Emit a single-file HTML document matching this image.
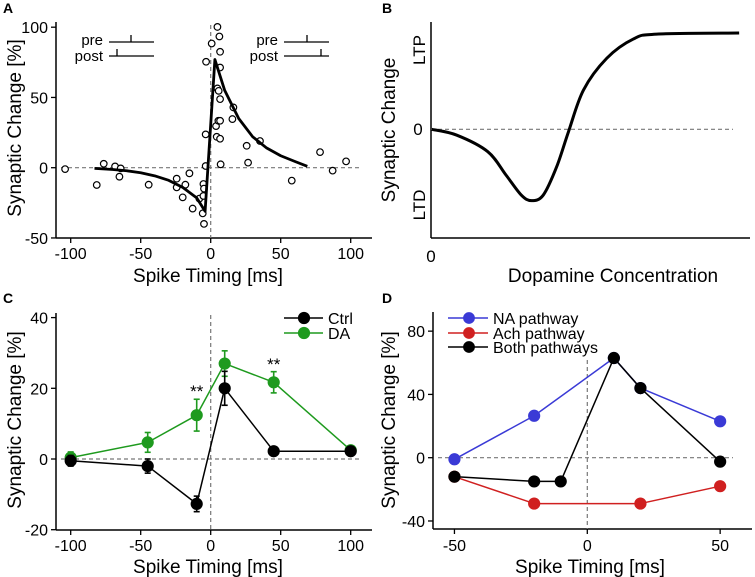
<!DOCTYPE html>
<html><head><meta charset="utf-8">
<style>
html,body{margin:0;padding:0;background:#fff;}
svg{display:block;font-family:"Liberation Sans",Arial,sans-serif;}
</style></head>
<body>
<svg id="fig" width="755" height="577" viewBox="0 0 755 577" xmlns="http://www.w3.org/2000/svg"></svg>
<script>
// ---------- Panel A data ----------
const aPtsX=[-104,-81.4,-76.4,-68.3,-64.3,-65.2,-44.3,-24.3,-24.3,-15.2,-18.1,-20,-12.9,-8.1,-5.2,-4.8,-5.2,-5.7,-4.8,-3.6,-3.3,-3.6,0.7,4.8,6.2,6.7,6.7,4.8,5.7,6.7,3.8,5.5,6.7,4.3,6.7,7.1,16.2,15.5,25.7,26.7,35.2,57.9,78.1,87.1,96.7];
const aPtsY=[-1,-12.3,2.8,0.9,-0.5,-6.4,-12.1,-7.8,-14,-4,-12.1,-21.1,-29.1,-22,-11.6,-14.9,-20.1,-32.5,-40,1.2,75.4,23.7,88.4,100.2,93.4,82.5,71.3,56.4,54.7,48.8,29.6,33.4,33.4,22,20.6,2.4,42.9,34.6,15.6,3.6,19,-9.2,11.1,-2.1,4.5];
const aFitX=[-83,-70,-60,-50,-40,-30,-20,-10,-4,3,10,20,30,40,50,60,69];
const aFitY=[-0.5,-1.3,-2.2,-3.6,-5.8,-9,-14,-21.5,-31,77,55,35,22,14,8.5,4.5,1];
const aXTicks=[-100,-50,0,50,100];
const aYTicks=[100,50,0,-50];
// ---------- Panel B data ----------
const bConc=[0.2,8,17.8,23.5,28.3,31.5,35.2,39.4,43.1,47.8,55.1,63.4,70.8,96.6];
const bVal=[0,-6,-23.3,-47.6,-68.5,-74.3,-68.5,-39,-2.5,40.9,74,94,99.2,100.3];
// ---------- Panel C data ----------
const cX=[-100,-45,-10,10,45,100];
const cCtrl=[-0.5,-2,-12.7,20,2.2,2.2];
const cCtrlErr=[1.5,2,2.2,4.8,1,1];
const cDA=[0.4,4.7,12.4,27,21.7,2.5];
const cDAErr=[1.6,2.8,4.5,3.6,3,1];
const cXTicks=[-100,-50,0,50,100];
const cYTicks=[40,20,0,-20];
// ---------- Panel D data ----------
const dNAx=[-50,-20,10,20,50];
const dNA=[-1,26.5,63,44,23];
const dAchx=[-50,-20,20,50];
const dAch=[-12,-29,-29,-18];
const dBothx=[-50,-20,-10,10,20,50];
const dBoth=[-12,-15,-15,63,44,-2.5];
const dXTicks=[-50,0,50];
const dYTicks=[80,40,0,-40];

const NS="http://www.w3.org/2000/svg";
const svg=document.getElementById('fig');
function mk(tag,attrs,parent,text){
  const e=document.createElementNS(NS,tag);
  for(const k in attrs)e.setAttribute(k,attrs[k]);
  if(text!==undefined)e.textContent=text;
  (parent||svg).appendChild(e);return e;
}
function grp(name){const g=mk('g',{});
  
  
  return g;}
function line(g,x1,y1,x2,y2,st,w,dash,name){const l=mk('line',{x1,y1,x2,y2,stroke:st,'stroke-width':w},g);
  if(dash)l.setAttribute('stroke-dasharray',dash);
  
  
  return l;}
function txt(g,x,y,s,size,anchor,name,extra){const t=mk('text',Object.assign({x,y,'font-size':size,'text-anchor':anchor||'middle',fill:'#000'},extra||{}),g,s);
  
  
  return t;}
function poly(g,pts,st,w,name){const p=mk('polyline',{points:pts.map(p=>p.join(',')).join(' '),fill:'none',stroke:st,'stroke-width':w,'stroke-linejoin':'round'},g);
  
  
  return p;}
function dot(g,x,y,r,fill,st,name){const c=mk('circle',{cx:x,cy:y,r,fill,stroke:st||fill,'stroke-width':1.2},g);
  
  
  return c;}

// ================= Panel A =================
(function(){
  const g=grp('panel-a');
  const xs=v=>210.7+v*1.4, ys=v=>167.7-v*1.405;
  txt(g,3,13,'A',14,'start','panel-label-a',{'font-weight':'bold'});
  line(g,56,22,56,238,'#000',1.5,null,'y-axis');
  line(g,56,238,372,238,'#000',1.5,null,'x-axis');
  aYTicks.forEach(v=>{line(g,51,ys(v),56,ys(v),'#000',1.3,null,'y-tick');txt(g,48,ys(v)+6,String(v),16,'end','y-tick-label');});
  aXTicks.forEach(v=>{line(g,xs(v),238,xs(v),243,'#000',1.3,null,'x-tick');txt(g,xs(v),259,String(v),16,'middle','x-tick-label');});
  line(g,61,ys(0),359,ys(0),'#777',1.2,'4,3','zero-line');
  line(g,xs(0),25,xs(0),238,'#777',1.2,'4,3','zero-time-line');
  txt(g,208,282,'Spike Timing [ms]',19,'middle','x-axis-title');
  txt(g,0,0,'Synaptic Change [%]',19,'middle','y-axis-title',{transform:'translate(21,128) rotate(-90)'});
  aPtsX.forEach((x,i)=>dot(g,xs(x),ys(aPtsY[i]),3.3,'#fff','#000','data-point'));
  poly(g,aFitX.map((x,i)=>[xs(x),ys(aFitY[i])]),'#000',2.8,'fit-curve');
  txt(g,103,45,'pre',15,'end','inset-pre-label-left');
  line(g,109,42,154,42,'#000',1.3,null,'pre-line-left');line(g,131,35,131,42,'#000',1.3,null,'pre-spike-left');
  txt(g,103,61,'post',15,'end','inset-post-label-left');
  line(g,109,56,154,56,'#000',1.3,null,'post-line-left');line(g,117,49,117,56,'#000',1.3,null,'post-spike-left');
  txt(g,278,45,'pre',15,'end','inset-pre-label-right');
  line(g,284,42,329,42,'#000',1.3,null,'pre-line-right');line(g,307,35,307,42,'#000',1.3,null,'pre-spike-right');
  txt(g,278,61,'post',15,'end','inset-post-label-right');
  line(g,284,56,329,56,'#000',1.3,null,'post-line-right');line(g,321,49,321,56,'#000',1.3,null,'post-spike-right');
})();

// ================= Panel B =================
(function(){
  const g=grp('panel-b');
  const xs=c=>431+c*3.19, ys=v=>129.3-v*0.96;
  txt(g,382,13,'B',14,'start','panel-label-b',{'font-weight':'bold'});
  line(g,431,22,431,238,'#000',1.5,null,'y-axis');
  line(g,431,238,750,238,'#000',1.5,null,'x-axis');
  line(g,431,ys(0),733,ys(0),'#777',1.2,'4,3','zero-line');
  txt(g,0,0,'LTP',17,'middle','ltp-label',{transform:'translate(425,50) rotate(-90)'});
  txt(g,418,135,'0',17,'middle','zero-label');
  txt(g,0,0,'LTD',17,'middle','ltd-label',{transform:'translate(425,205) rotate(-90)'});
  txt(g,0,0,'Synaptic Change',19,'middle','y-axis-title',{transform:'translate(395,130) rotate(-90)'});
  txt(g,431,262,'0',17,'middle','x-origin-label');
  txt(g,613,282,'Dopamine Concentration',19,'middle','x-axis-title');
  const P=bConc.map((c,i)=>[xs(c),ys(bVal[i])]);
  let d='M'+P[0][0]+','+P[0][1];
  for(let i=0;i<P.length-1;i++){
    const p0=P[Math.max(0,i-1)],p1=P[i],p2=P[i+1],p3=P[Math.min(P.length-1,i+2)];
    const c1=[p1[0]+(p2[0]-p0[0])/6,p1[1]+(p2[1]-p0[1])/6];
    const c2=[p2[0]-(p3[0]-p1[0])/6,p2[1]-(p3[1]-p1[1])/6];
    d+=` C${c1[0]},${c1[1]} ${c2[0]},${c2[1]} ${p2[0]},${p2[1]}`;
  }
  const p=mk('path',{d,fill:'none',stroke:'#000','stroke-width':3},g);
  
  
})();

// ================= Panel C =================
(function(){
  const g=grp('panel-c');
  const xs=v=>210.7+v*1.4, ys=v=>459-v*3.535;
  txt(g,3,303,'C',14,'start','panel-label-c',{'font-weight':'bold'});
  line(g,56,313,56,530,'#000',1.5,null,'y-axis');
  line(g,56,530,372,530,'#000',1.5,null,'x-axis');
  cYTicks.forEach(v=>{line(g,51,ys(v),56,ys(v),'#000',1.3,null,'y-tick');txt(g,48,ys(v)+6,String(v),16,'end','y-tick-label');});
  cXTicks.forEach(v=>{line(g,xs(v),530,xs(v),535,'#000',1.3,null,'x-tick');txt(g,xs(v),551,String(v),16,'middle','x-tick-label');});
  line(g,61,ys(0),359,ys(0),'#777',1.2,'4,3','zero-line');
  line(g,xs(0),315,xs(0),530,'#777',1.2,'4,3','zero-time-line');
  txt(g,208,573,'Spike Timing [ms]',19,'middle','x-axis-title');
  txt(g,0,0,'Synaptic Change [%]',19,'middle','y-axis-title',{transform:'translate(21,420) rotate(-90)'});
  function series(X,Y,E,col,name){
    poly(g,X.map((x,i)=>[xs(x),ys(Y[i])]),col,1.5,name+'-line');
    X.forEach((x,i)=>{
      const cx=xs(x);
      line(g,cx,ys(Y[i]-E[i]),cx,ys(Y[i]+E[i]),col,1.6,null,name+'-errorbar');
      line(g,cx-3,ys(Y[i]+E[i]),cx+3,ys(Y[i]+E[i]),col,1.6,null,name+'-errorcap');
      line(g,cx-3,ys(Y[i]-E[i]),cx+3,ys(Y[i]-E[i]),col,1.6,null,name+'-errorcap');
      dot(g,cx,ys(Y[i]),5.5,col,col,name+'-point');
    });
  }
  series(cX,cDA,cDAErr,'#1e9a1e','da');
  series(cX,cCtrl,cCtrlErr,'#000','ctrl');
  txt(g,xs(-10),397,'**',17,'middle','significance-marker');
  txt(g,xs(45),370,'**',17,'middle','significance-marker');
  line(g,284,318,323,318,'#000',1.5,null,'legend-ctrl-line');dot(g,304,318,5.5,'#000','#000','legend-ctrl-dot');
  txt(g,328,324,'Ctrl',16,'start','legend-ctrl-label');
  line(g,284,333,323,333,'#1e9a1e',1.5,null,'legend-da-line');dot(g,304,333,5.5,'#1e9a1e','#1e9a1e','legend-da-dot');
  txt(g,328,339,'DA',16,'start','legend-da-label');
})();

// ================= Panel D =================
(function(){
  const g=grp('panel-d');
  const xs=v=>587.3+v*2.657, ys=v=>457.7-v*1.582;
  txt(g,382,303,'D',14,'start','panel-label-d',{'font-weight':'bold'});
  line(g,433,312,433,529,'#000',1.5,null,'y-axis');
  line(g,433,529,752,529,'#000',1.5,null,'x-axis');
  dYTicks.forEach(v=>{line(g,428,ys(v),433,ys(v),'#000',1.3,null,'y-tick');txt(g,425,ys(v)+6,String(v),16,'end','y-tick-label');});
  dXTicks.forEach(v=>{line(g,xs(v),529,xs(v),534,'#000',1.3,null,'x-tick');txt(g,xs(v),551,String(v),16,'middle','x-tick-label');});
  line(g,438,ys(0),733,ys(0),'#777',1.2,'4,3','zero-line');
  line(g,xs(0),360,xs(0),529,'#777',1.2,'4,3','zero-time-line');
  txt(g,590,573,'Spike Timing [ms]',19,'middle','x-axis-title');
  txt(g,0,0,'Synaptic Change [%]',19,'middle','y-axis-title',{transform:'translate(395,420) rotate(-90)'});
  function series(X,Y,col,name){
    poly(g,X.map((x,i)=>[xs(x),ys(Y[i])]),col,1.5,name+'-line');
    X.forEach((x,i)=>dot(g,xs(x),ys(Y[i]),5.5,col,col,name+'-point'));
  }
  series(dNAx,dNA,'#3a3ad6','na');
  series(dAchx,dAch,'#d02020','ach');
  series(dBothx,dBoth,'#000','both');
  const leg=[['NA pathway','#3a3ad6',318,'na'],['Ach pathway','#d02020',333,'ach'],['Both pathways','#000',347,'both']];
  leg.forEach(l=>{
    line(g,448,l[2],488,l[2],l[1],1.5,null,'legend-'+l[3]+'-line');
    dot(g,469,l[2],5.3,l[1],l[1],'legend-'+l[3]+'-dot');
    txt(g,493,l[2]+6,l[0],16,'start','legend-'+l[3]+'-label');
  });
})();
</script>
</body></html>
